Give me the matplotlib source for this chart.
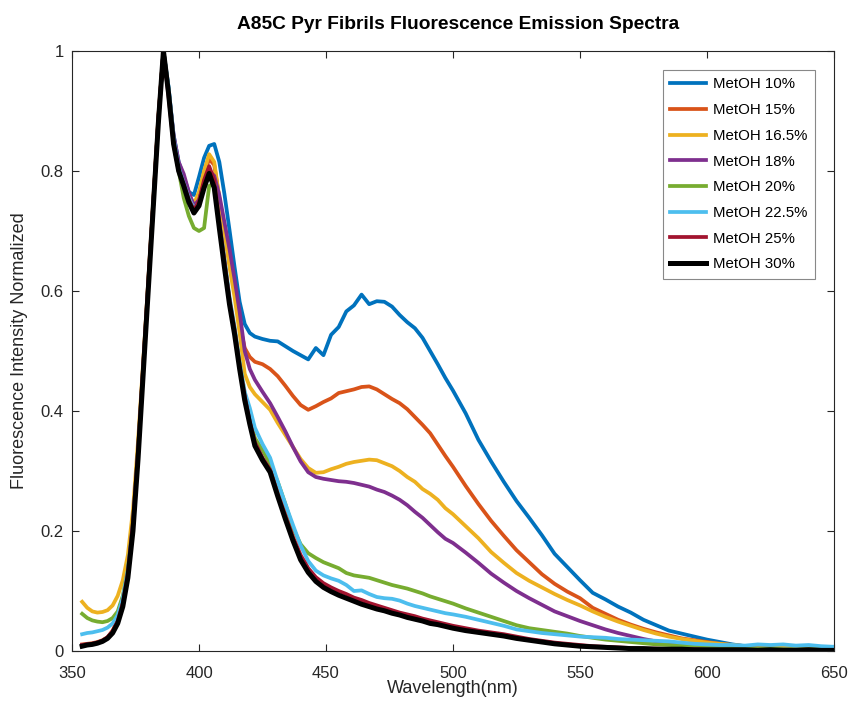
import numpy as np
import matplotlib
matplotlib.use("Agg")
import matplotlib.pyplot as plt
from matplotlib.ticker import FormatStrFormatter

plt.rcParams['font.family'] = ['Liberation Sans', 'DejaVu Sans']

# wavelength grid (nm): 2 nm up to 422, 3 nm up to 497, then 5 nm
wavelength = ([354, 356, 358, 360, 362, 364, 366, 368, 370, 372]
              + [374, 376, 378, 380, 382, 384, 386, 388, 390, 392, 394, 396, 398,
                 400, 402, 404, 406, 408, 410, 412, 414, 416, 418, 420, 422]
              + [425, 428, 431, 434, 437, 440, 443, 446, 449, 452, 455, 458, 461,
                 464, 467, 470, 473, 476, 479, 482, 485, 488, 491, 494, 497]
              + [500, 505, 510, 515, 520, 525, 530, 535, 540, 545, 550, 555, 560,
                 565, 570, 575, 580, 585, 590, 595, 600, 605, 610, 615, 620, 625,
                 630, 635, 640, 645, 650])

labels = ["MetOH 10%", "MetOH 15%", "MetOH 16.5%", "MetOH 18%",
          "MetOH 20%", "MetOH 22.5%", "MetOH 25%", "MetOH 30%"]
colors = ["#0072BD", "#D95319", "#EDB120", "#7E2F8E",
          "#77AC30", "#4DBEEE", "#A2142F", "#000000"]

meoh_10 = ([0.010, 0.011, 0.012, 0.014, 0.017, 0.022, 0.032, 0.050, 0.080, 0.128]
           + [0.208, 0.328, 0.468, 0.608, 0.745, 0.885, 1.000, 0.940, 0.860, 0.815,
              0.790, 0.765, 0.760, 0.790, 0.822, 0.842, 0.845, 0.815, 0.762, 0.702,
              0.640, 0.582, 0.545, 0.530, 0.524]
           + [0.520, 0.517, 0.516, 0.508, 0.500, 0.493, 0.486, 0.505, 0.493, 0.527,
              0.540, 0.566, 0.576, 0.594, 0.578, 0.583, 0.582, 0.574, 0.560, 0.548,
              0.538, 0.522, 0.500, 0.478, 0.455]
           + [0.434, 0.396, 0.352, 0.316, 0.282, 0.250, 0.222, 0.193, 0.162, 0.140,
              0.118, 0.097, 0.086, 0.074, 0.064, 0.052, 0.043, 0.034, 0.029, 0.024,
              0.019, 0.015, 0.011, 0.008, 0.006, 0.005, 0.004, 0.003, 0.003, 0.002,
              0.002])

meoh_15 = ([0.011, 0.012, 0.013, 0.015, 0.018, 0.023, 0.034, 0.052, 0.082, 0.130]
           + [0.210, 0.330, 0.470, 0.610, 0.745, 0.885, 1.000, 0.935, 0.855, 0.810,
              0.785, 0.758, 0.742, 0.760, 0.795, 0.820, 0.810, 0.755, 0.700, 0.650,
              0.600, 0.545, 0.505, 0.490, 0.482]
           + [0.478, 0.470, 0.458, 0.442, 0.425, 0.410, 0.402, 0.408, 0.415, 0.421,
              0.430, 0.433, 0.436, 0.440, 0.441, 0.436, 0.428, 0.420, 0.413, 0.403,
              0.390, 0.377, 0.363, 0.344, 0.325]
           + [0.307, 0.275, 0.245, 0.217, 0.192, 0.168, 0.148, 0.128, 0.112, 0.099,
              0.088, 0.072, 0.062, 0.052, 0.044, 0.037, 0.031, 0.026, 0.021, 0.018,
              0.015, 0.012, 0.010, 0.008, 0.006, 0.005, 0.004, 0.004, 0.003, 0.003,
              0.002])

meoh_165 = ([0.082, 0.072, 0.066, 0.064, 0.065, 0.068, 0.076, 0.092, 0.118, 0.160]
            + [0.235, 0.350, 0.480, 0.615, 0.750, 0.890, 1.000, 0.935, 0.855, 0.810,
               0.785, 0.760, 0.745, 0.765, 0.800, 0.828, 0.815, 0.755, 0.695, 0.640,
               0.590, 0.530, 0.462, 0.440, 0.428]
            + [0.415, 0.402, 0.380, 0.360, 0.340, 0.320, 0.305, 0.297, 0.298, 0.303,
               0.307, 0.312, 0.315, 0.317, 0.319, 0.318, 0.313, 0.308, 0.300, 0.290,
               0.282, 0.270, 0.262, 0.252, 0.238]
            + [0.228, 0.208, 0.188, 0.165, 0.147, 0.130, 0.117, 0.106, 0.095, 0.085,
               0.076, 0.066, 0.057, 0.049, 0.042, 0.035, 0.029, 0.024, 0.020, 0.017,
               0.014, 0.012, 0.010, 0.008, 0.007, 0.006, 0.005, 0.004, 0.004, 0.003,
               0.003])

meoh_18 = ([0.010, 0.011, 0.012, 0.014, 0.017, 0.022, 0.032, 0.048, 0.078, 0.125]
           + [0.205, 0.325, 0.465, 0.605, 0.745, 0.885, 1.000, 0.935, 0.860, 0.815,
              0.795, 0.765, 0.742, 0.752, 0.780, 0.800, 0.792, 0.760, 0.715, 0.670,
              0.620, 0.565, 0.500, 0.470, 0.452]
           + [0.432, 0.413, 0.390, 0.366, 0.340, 0.316, 0.298, 0.290, 0.287, 0.285,
              0.283, 0.282, 0.280, 0.277, 0.274, 0.269, 0.265, 0.259, 0.252, 0.243,
              0.232, 0.222, 0.210, 0.198, 0.187]
           + [0.180, 0.164, 0.147, 0.129, 0.114, 0.100, 0.088, 0.077, 0.066, 0.058,
              0.050, 0.043, 0.036, 0.030, 0.025, 0.020, 0.016, 0.013, 0.011, 0.009,
              0.008, 0.006, 0.005, 0.005, 0.004, 0.004, 0.003, 0.003, 0.003, 0.002,
              0.002])

meoh_20 = ([0.062, 0.055, 0.051, 0.049, 0.048, 0.050, 0.055, 0.066, 0.092, 0.135]
           + [0.215, 0.335, 0.470, 0.610, 0.745, 0.885, 1.000, 0.935, 0.850, 0.800,
              0.755, 0.725, 0.705, 0.700, 0.705, 0.775, 0.780, 0.712, 0.650, 0.588,
              0.538, 0.480, 0.430, 0.390, 0.355]
           + [0.335, 0.312, 0.282, 0.245, 0.205, 0.178, 0.163, 0.155, 0.148, 0.143,
              0.138, 0.130, 0.126, 0.124, 0.122, 0.118, 0.114, 0.110, 0.107, 0.104,
              0.100, 0.096, 0.091, 0.087, 0.083]
           + [0.079, 0.071, 0.064, 0.057, 0.050, 0.043, 0.038, 0.035, 0.032, 0.029,
              0.025, 0.022, 0.019, 0.017, 0.015, 0.013, 0.011, 0.010, 0.009, 0.008,
              0.007, 0.006, 0.005, 0.005, 0.004, 0.004, 0.003, 0.003, 0.003, 0.003,
              0.002])

meoh_225 = ([0.028, 0.030, 0.031, 0.033, 0.035, 0.039, 0.046, 0.060, 0.088, 0.135]
            + [0.210, 0.330, 0.470, 0.610, 0.745, 0.885, 1.000, 0.940, 0.855, 0.805,
               0.780, 0.755, 0.738, 0.748, 0.775, 0.800, 0.780, 0.715, 0.655, 0.590,
               0.540, 0.480, 0.432, 0.405, 0.372]
            + [0.345, 0.322, 0.282, 0.245, 0.210, 0.176, 0.150, 0.134, 0.126, 0.121,
               0.117, 0.110, 0.100, 0.101, 0.095, 0.090, 0.088, 0.087, 0.084, 0.079,
               0.075, 0.072, 0.069, 0.066, 0.063]
            + [0.061, 0.057, 0.052, 0.047, 0.042, 0.036, 0.033, 0.030, 0.028, 0.026,
               0.024, 0.023, 0.022, 0.020, 0.019, 0.018, 0.017, 0.016, 0.014, 0.012,
               0.011, 0.010, 0.010, 0.009, 0.011, 0.010, 0.011, 0.009, 0.010, 0.008,
               0.007])

meoh_25 = ([0.010, 0.011, 0.012, 0.014, 0.017, 0.023, 0.033, 0.050, 0.080, 0.130]
           + [0.215, 0.335, 0.475, 0.615, 0.750, 0.890, 1.000, 0.925, 0.845, 0.800,
              0.778, 0.752, 0.735, 0.750, 0.785, 0.808, 0.785, 0.715, 0.650, 0.585,
              0.535, 0.475, 0.425, 0.382, 0.348]
           + [0.322, 0.302, 0.262, 0.226, 0.190, 0.160, 0.138, 0.123, 0.113, 0.106,
              0.100, 0.095, 0.089, 0.085, 0.080, 0.076, 0.072, 0.068, 0.064, 0.061,
              0.058, 0.054, 0.051, 0.048, 0.045]
           + [0.042, 0.038, 0.034, 0.031, 0.028, 0.024, 0.020, 0.017, 0.014, 0.012,
              0.010, 0.008, 0.007, 0.006, 0.005, 0.004, 0.004, 0.003, 0.003, 0.003,
              0.002, 0.002, 0.002, 0.002, 0.002, 0.002, 0.001, 0.002, 0.001, 0.001,
              0.001])

meoh_30 = ([0.008, 0.010, 0.011, 0.013, 0.016, 0.021, 0.030, 0.046, 0.074, 0.122]
           + [0.200, 0.320, 0.460, 0.600, 0.740, 0.880, 1.000, 0.930, 0.845, 0.800,
              0.775, 0.748, 0.730, 0.742, 0.772, 0.796, 0.772, 0.705, 0.640, 0.578,
              0.528, 0.470, 0.418, 0.378, 0.342]
           + [0.318, 0.298, 0.258, 0.220, 0.184, 0.152, 0.131, 0.116, 0.106, 0.099,
              0.093, 0.088, 0.083, 0.078, 0.074, 0.070, 0.067, 0.063, 0.060, 0.056,
              0.053, 0.050, 0.046, 0.044, 0.041]
           + [0.038, 0.034, 0.031, 0.028, 0.025, 0.021, 0.018, 0.015, 0.012, 0.010,
              0.008, 0.007, 0.006, 0.005, 0.004, 0.004, 0.003, 0.003, 0.003, 0.002,
              0.002, 0.002, 0.002, 0.002, 0.001, 0.002, 0.001, 0.001, 0.002, 0.001,
              0.001])

series = [meoh_10, meoh_15, meoh_165, meoh_18, meoh_20, meoh_225, meoh_25, meoh_30]

fig = plt.figure(figsize=(8.5, 7.04), dpi=100)
ax = fig.add_axes([72 / 850, 53 / 704, 762 / 850, 600 / 704])

for vals, lab, col in zip(series, labels, colors):
    lw = 3.6 if col == "#000000" else 2.7
    ax.plot(wavelength, vals, color=col, linewidth=lw, label=lab)

ax.set_xlim(350, 650)
ax.set_ylim(0, 1)
ax.set_xticks(np.arange(350, 651, 50))
ax.set_yticks(np.arange(0, 1.01, 0.2))
ax.yaxis.set_major_formatter(FormatStrFormatter('%g'))

edge = '#262626'
for sp in ax.spines.values():
    sp.set_color(edge)
    sp.set_linewidth(0.8)
ax.tick_params(direction='in', top=True, right=True, length=5, width=0.8,
               colors=edge, labelsize=12)
ax.tick_params(axis='x', pad=11)
ax.tick_params(axis='y', pad=6)

ax.set_title("A85C Pyr Fibrils Fluorescence Emission Spectra",
             fontsize=13.8, fontweight='bold', pad=16, x=0.507)
ax.set_xlabel("Wavelength(nm)", fontsize=13, color=edge, labelpad=-1)
ax.set_ylabel("Fluorescence Intensity Normalized", fontsize=13, color=edge,
              labelpad=9)

leg = ax.legend(loc='upper right', bbox_to_anchor=(0.975, 0.968), borderaxespad=0,
                fontsize=10.8, handlelength=2.4, handletextpad=0.5,
                labelspacing=0.78, borderpad=0.48, fancybox=False, framealpha=1)
leg.get_frame().set_edgecolor('#888888')
leg.get_frame().set_linewidth(0.8)

fig.savefig("out.png", dpi=100)
